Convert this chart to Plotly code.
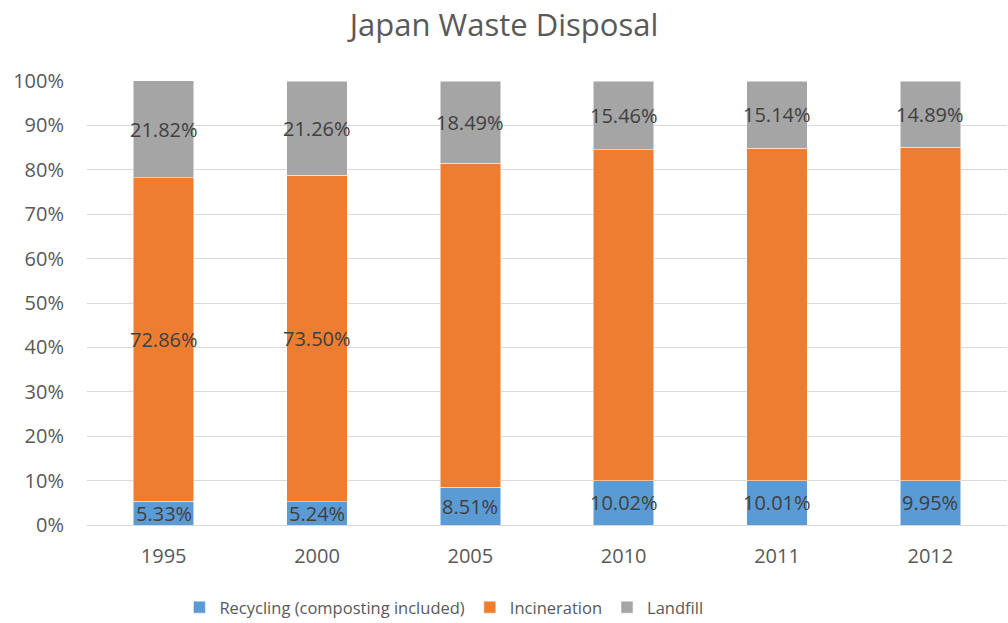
import plotly.graph_objects as go

years = ["1995", "2000", "2005", "2010", "2011", "2012"]
recycling = [5.33, 5.24, 8.51, 10.02, 10.01, 9.95]
incineration = [72.86, 73.50, 73.00, 74.52, 74.85, 75.16]
landfill = [21.82, 21.26, 18.49, 15.46, 15.14, 14.89]
incineration_labeled = [True, True, False, False, False, False]

series_names = ["Recycling (composting included)", "Incineration", "Landfill"]
colors = ["#5B9BD5", "#ED7D31", "#A5A5A5"]

font_family = "Open Sans"

fig = go.Figure()
for name, vals, col in [
    (series_names[0], recycling, colors[0]),
    (series_names[1], incineration, colors[1]),
    (series_names[2], landfill, colors[2]),
]:
    fig.add_trace(go.Bar(
        x=years, y=vals, name=name,
        marker=dict(color=col, line=dict(color="white", width=0.5)),
    ))

# data labels at the middle of each stacked segment
annotations = []
for i, yr in enumerate(years):
    base = 0.0
    for vals, show in [(recycling, True), (incineration, incineration_labeled[i]), (landfill, True)]:
        v = vals[i]
        if show:
            annotations.append(dict(
                x=i, y=base + v / 2, xref="x", yref="y",
                text=f"{v:.2f}%", showarrow=False,
                font=dict(family=font_family, size=20, color="#404040"),
            ))
        base += v

fig.update_layout(
    barmode="stack",
    bargap=0.605,
    width=1008, height=623,
    paper_bgcolor="white", plot_bgcolor="white",
    margin=dict(l=87, r=1, t=81, b=98, autoexpand=False),
    title=dict(text="Japan Waste Disposal", x=0.5, xanchor="center", y=0.96, yanchor="middle",
               font=dict(family=font_family, size=31, color="#595959")),
    font=dict(family=font_family, color="#595959"),
    annotations=annotations,
    legend=dict(orientation="h", xref="container", x=0.178, xanchor="left",
                yref="container", y=0.025, yanchor="middle",
                font=dict(family=font_family, size=16.5, color="#595959"),
                traceorder="normal", itemwidth=30),
    xaxis=dict(type="category", tickfont=dict(size=20, color="#595959"), showgrid=False,
               showline=True, linecolor="#d9d9d9", ticks="", ticklabelstandoff=13),
    yaxis=dict(range=[0, 100], dtick=10, ticksuffix="%",
               tickfont=dict(size=20, color="#595959"),
               showgrid=True, gridcolor="#d9d9d9", gridwidth=1, zeroline=False,
               ticklabelstandoff=22),
)

fig.write_html("out.html")
